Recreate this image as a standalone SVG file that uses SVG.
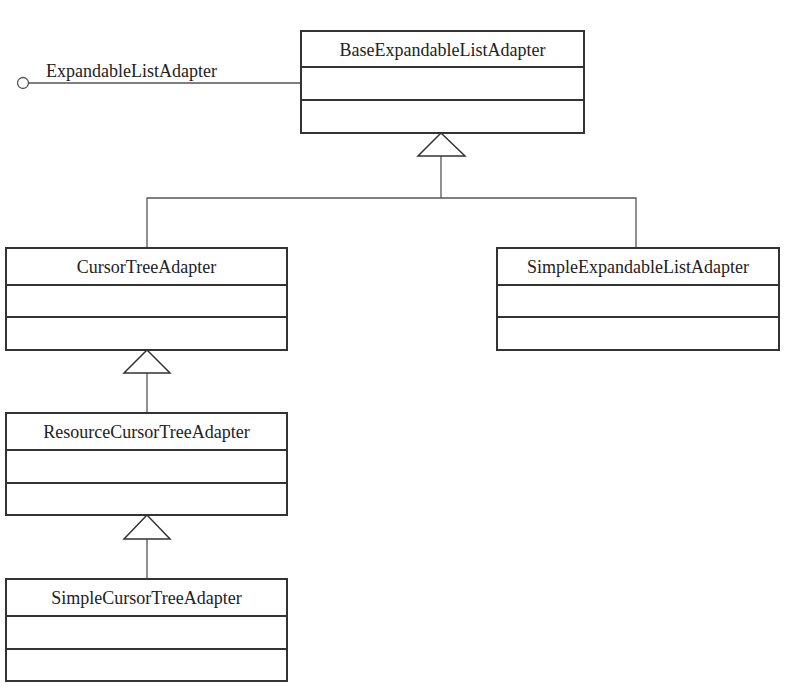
<svg xmlns="http://www.w3.org/2000/svg" width="795" height="693" viewBox="0 0 795 693">
<style>
.b{fill:#fff;stroke:#333;stroke-width:2}
.d{stroke:#333;stroke-width:2}
.c{fill:none;stroke:#555;stroke-width:1.3}
.t{fill:#fff;stroke:#333;stroke-width:1.5}
text{font-family:"Liberation Serif",serif;font-size:18px;fill:#222}
</style>
<rect width="795" height="693" fill="#fff"/>
<g id="connectors">
<circle cx="23" cy="83" r="5.5" class="c"/>
<line x1="28.5" y1="83" x2="301" y2="83" class="c"/>
<text x="46" y="77">ExpandableListAdapter</text>
<polyline points="441,156 441,198" class="c"/>
<polyline points="147,248 147,198 636,198 636,248" class="c"/>
<line x1="147" y1="373" x2="147" y2="413" class="c"/>
<line x1="147" y1="539" x2="147" y2="579" class="c"/>
<polygon points="441,133 418,156 465,156" class="t"/>
<polygon points="147,350 124,373 170,373" class="t"/>
<polygon points="147,515 124,539 170,539" class="t"/>
</g>
<g id="base"><rect x="301" y="31" width="283" height="102" class="b"/><line x1="301" y1="67" x2="584" y2="67" class="d"/><line x1="301" y1="100" x2="584" y2="100" class="d"/><text x="442.5" y="56" text-anchor="middle">BaseExpandableListAdapter</text></g>
<g id="cursor"><rect x="6" y="248" width="281" height="102" class="b"/><line x1="6" y1="285" x2="287" y2="285" class="d"/><line x1="6" y1="317" x2="287" y2="317" class="d"/><text x="146.5" y="273" text-anchor="middle">CursorTreeAdapter</text></g>
<g id="simpleExp"><rect x="497" y="248" width="282" height="102" class="b"/><line x1="497" y1="285" x2="779" y2="285" class="d"/><line x1="497" y1="317" x2="779" y2="317" class="d"/><text x="638" y="273" text-anchor="middle">SimpleExpandableListAdapter</text></g>
<g id="resource"><rect x="6" y="413" width="281" height="102" class="b"/><line x1="6" y1="450" x2="287" y2="450" class="d"/><line x1="6" y1="483" x2="287" y2="483" class="d"/><text x="146.5" y="438" text-anchor="middle">ResourceCursorTreeAdapter</text></g>
<g id="simpleCursor"><rect x="6" y="579" width="281" height="102" class="b"/><line x1="6" y1="616" x2="287" y2="616" class="d"/><line x1="6" y1="649" x2="287" y2="649" class="d"/><text x="146.5" y="604" text-anchor="middle">SimpleCursorTreeAdapter</text></g>
</svg>
